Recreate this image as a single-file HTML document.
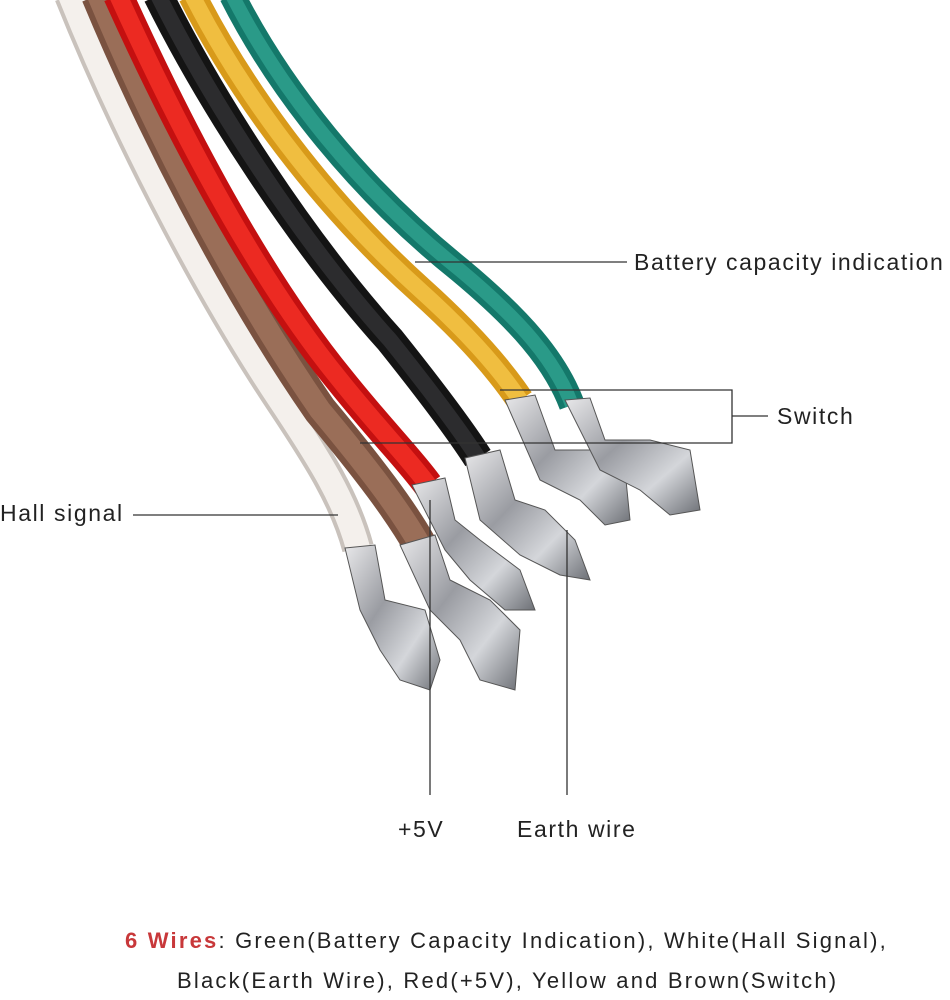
<!DOCTYPE html>
<html><head><meta charset="utf-8"><style>
html,body{margin:0;padding:0;background:#fff;width:950px;height:1000px;overflow:hidden}
svg{display:block}
text{font-family:"Liberation Sans",sans-serif;fill:#222}
.l{font-size:23px;letter-spacing:1.6px}
.c{font-size:22px;letter-spacing:2.2px}
</style></head><body>
<svg width="950" height="1000" viewBox="0 0 950 1000">
<defs>
<linearGradient id="m" x1="0" y1="0" x2="1" y2="1">
<stop offset="0" stop-color="#e8e8ea"/><stop offset="0.4" stop-color="#9a9ca2"/><stop offset="0.7" stop-color="#d4d6da"/><stop offset="1" stop-color="#6d7076"/>
</linearGradient>
</defs>
<g fill="none" stroke-linecap="butt">
<path d="M70,-5 C120,120 200,280 280,400 C320,460 345,500 358,548" stroke="#c9c2bc" stroke-width="32"/>
<path d="M70,-5 C120,120 200,280 280,400 C320,460 345,500 358,548" stroke="#f4f0ec" stroke-width="24"/>
<path d="M98,-5 C150,120 230,280 320,410 C370,470 400,510 420,545" stroke="#7a5240" stroke-width="34"/>
<path d="M98,-5 C150,120 230,280 320,410 C370,470 400,510 420,545" stroke="#9a6e58" stroke-width="22"/>
<path d="M118,-5 C170,110 250,270 340,380 C380,430 410,460 428,485" stroke="#c41010" stroke-width="30"/>
<path d="M118,-5 C170,110 250,270 340,380 C380,430 410,460 428,485" stroke="#ec2a22" stroke-width="18"/>
<path d="M158,-5 C210,100 300,240 390,340 C430,390 460,430 478,458" stroke="#141414" stroke-width="30"/>
<path d="M158,-5 C210,100 300,240 390,340 C430,390 460,430 478,458" stroke="#2c2c2e" stroke-width="16"/>
<path d="M192,-5 C240,90 320,200 420,290 C470,335 500,370 520,400" stroke="#d89a1a" stroke-width="28"/>
<path d="M192,-5 C240,90 320,200 420,290 C470,335 500,370 520,400" stroke="#f0be40" stroke-width="16"/>
<path d="M232,-5 C280,90 360,190 460,270 C520,320 555,360 572,405" stroke="#14786a" stroke-width="26"/>
<path d="M232,-5 C280,90 360,190 460,270 C520,320 555,360 572,405" stroke="#2a9a88" stroke-width="14"/>
</g>
<g fill="url(#m)" stroke="#555" stroke-width="1">
<polygon points="345,548 375,545 385,600 425,610 440,660 430,690 400,680 380,650 360,610"/>
<polygon points="400,545 435,535 450,580 490,600 520,630 515,690 480,680 460,640 430,610"/>
<polygon points="412,485 445,478 455,520 480,540 520,570 535,610 505,610 470,580 445,550"/>
<polygon points="465,458 500,450 515,500 545,510 575,540 590,580 560,575 520,555 480,520"/>
<polygon points="505,400 535,395 555,450 600,450 625,470 630,520 605,525 580,500 540,480"/>
<polygon points="565,400 590,398 605,440 650,440 690,450 700,510 670,515 640,490 600,470"/>
</g>
<g stroke="#333" stroke-width="1.3" fill="none">
<line x1="415" y1="262" x2="627" y2="262"/>
<polyline points="500,390 732,390 732,443 360,443"/>
<line x1="732" y1="416" x2="768" y2="416"/>
<line x1="133" y1="515" x2="338" y2="515"/>
<line x1="430" y1="500" x2="430" y2="795"/>
<line x1="567" y1="530" x2="567" y2="795"/>
</g>
<text class="l" x="634" y="270">Battery capacity indication</text>
<text class="l" x="777" y="424">Switch</text>
<text class="l" x="0" y="521">Hall signal</text>
<text class="l" x="398" y="837">+5V</text>
<text class="l" x="517" y="837">Earth wire</text>
<text class="c" x="125" y="948"><tspan fill="#c8383a" font-weight="bold">6 Wires</tspan>: Green(Battery Capacity Indication), White(Hall Signal),</text>
<text class="c" x="177" y="988">Black(Earth Wire), Red(+5V), Yellow and Brown(Switch)</text>
</svg>
</body></html>
